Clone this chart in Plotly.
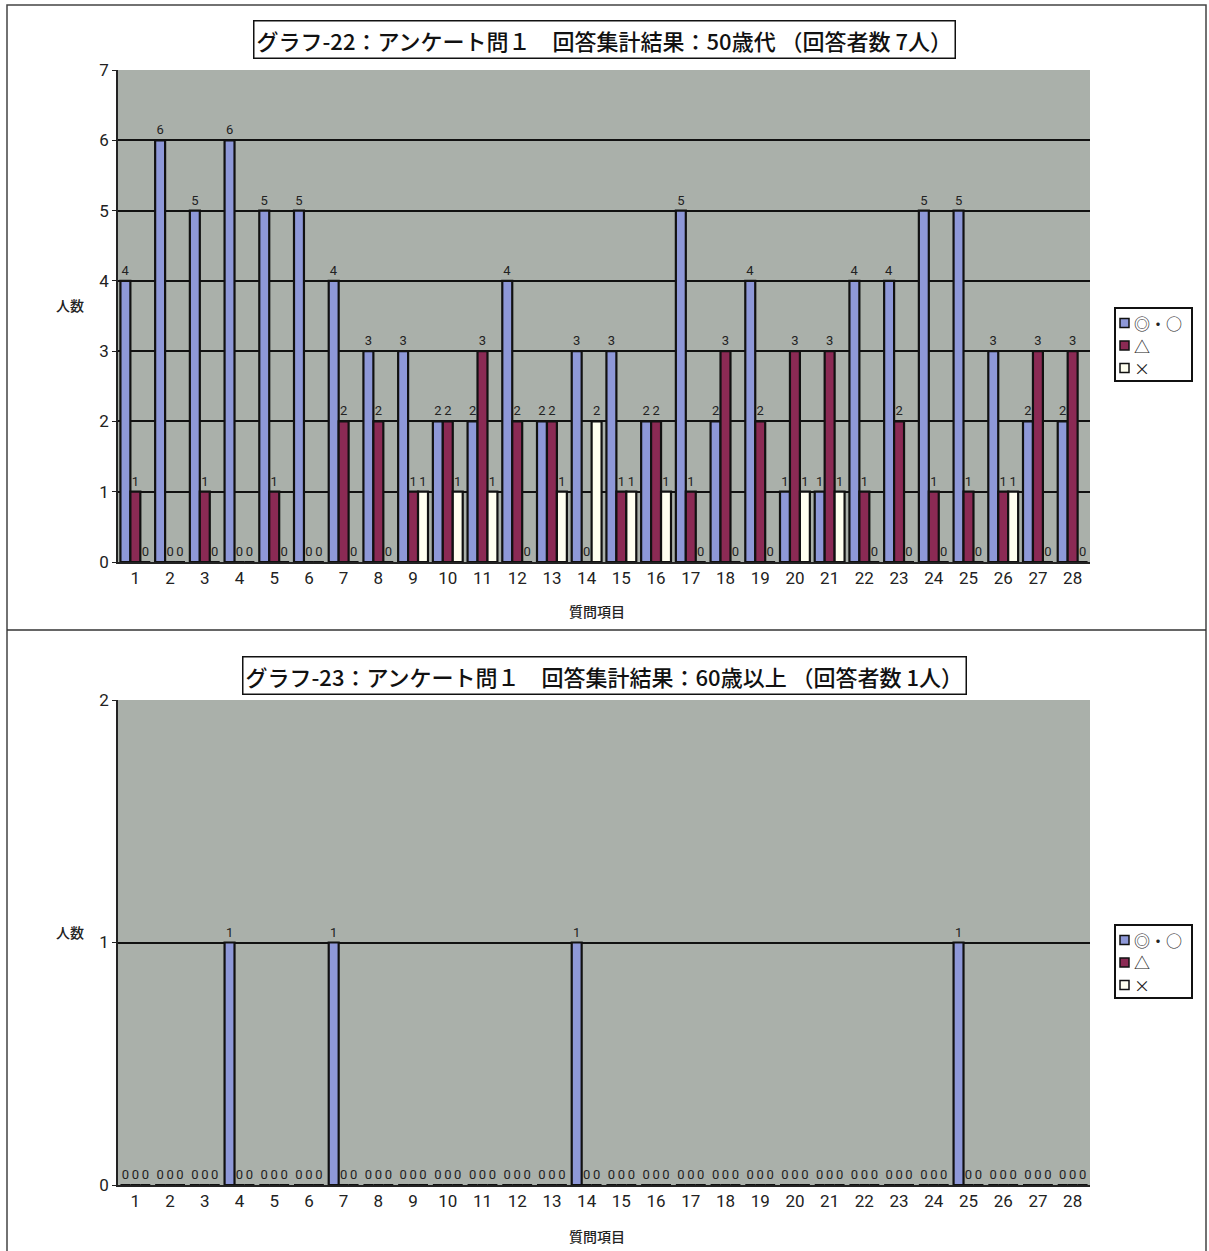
import plotly.graph_objects as go

questions = [str(i) for i in range(1, 29)]

# Graph 22: 50s (7 respondents)
g22_good = [4, 6, 5, 6, 5, 5, 4, 3, 3, 2, 2, 4, 2, 3, 3, 2, 5, 2, 4, 1, 1, 4, 4, 5, 5, 3, 2, 2]
g22_tri = [1, 0, 1, 0, 1, 0, 2, 2, 1, 2, 3, 2, 2, 0, 1, 2, 1, 3, 2, 3, 3, 1, 2, 1, 1, 1, 3, 3]
g22_x = [0, 0, 0, 0, 0, 0, 0, 0, 1, 1, 1, 0, 1, 2, 1, 1, 0, 0, 0, 1, 1, 0, 0, 0, 0, 1, 0, 0]

# Graph 23: 60+ (1 respondent)
g23_good = [0, 0, 0, 1, 0, 0, 1, 0, 0, 0, 0, 0, 0, 1, 0, 0, 0, 0, 0, 0, 0, 0, 0, 0, 1, 0, 0, 0]
g23_tri = [0] * 28
g23_x = [0] * 28

series_names = ["◎・○", "△", "×"]
colors = ["#8e98d8", "#8b2a54", "#fffff0"]

title22 = "グラフ-22：アンケート問１　回答集計結果：50歳代 （回答者数 7人）"
title23 = "グラフ-23：アンケート問１　回答集計結果：60歳以上 （回答者数 1人）"

W, H = 1209, 1251
NUM_FONT = "Liberation Sans Narrow, Roboto, Noto Sans CJK JP, sans-serif"
JP_FONT = "Noto Sans CJK JP, sans-serif"

def px(x):
    return x / W

def py(y):
    return 1 - y / H

fig = go.Figure()

for (vals, xa, ya) in [
    ((g22_good, g22_tri, g22_x), "x", "y"),
    ((g23_good, g23_tri, g23_x), "x2", "y2"),
]:
    for name, v, c in zip(series_names, vals, colors):
        fig.add_trace(go.Bar(
            x=questions, y=v, name=name, xaxis=xa, yaxis=ya, showlegend=False,
            marker=dict(color=c, line=dict(color="#111111", width=2.2)),
            text=v, textposition="outside", cliponaxis=False,
            textfont=dict(family=NUM_FONT, size=13, color="#222222"),
        ))

axis_common = dict(
    showline=True, linecolor="#222222", linewidth=1.5, automargin=False,
    tickfont=dict(family=NUM_FONT, size=17, color="#222222"),
)

fig.update_layout(
    width=W, height=H,
    margin=dict(l=0, r=0, t=0, b=0, pad=0, autoexpand=False),
    paper_bgcolor="white",
    plot_bgcolor="#aab0aa",
    barmode="group", bargap=0.14, bargroupgap=0.0,
    xaxis=dict(domain=[px(118), px(1090)], anchor="y", type="category",
               ticks="", **axis_common),
    yaxis=dict(domain=[py(562), py(70)], anchor="x", range=[0, 7], dtick=1,
               showgrid=True, gridcolor="#111111", gridwidth=1.5,
               ticks="outside", ticklen=4, tickcolor="#222222", zeroline=False,
               **axis_common),
    xaxis2=dict(domain=[px(118), px(1090)], anchor="y2", type="category",
                ticks="", **axis_common),
    yaxis2=dict(domain=[py(1185), py(700)], anchor="x2", range=[0, 2], dtick=1,
                showgrid=True, gridcolor="#111111", gridwidth=1.5,
                ticks="outside", ticklen=4, tickcolor="#222222", zeroline=False,
                **axis_common),
    showlegend=False,
)

annos = [
    dict(text=title22, x=px(604), y=py(40)),
    dict(text=title23, x=px(605), y=py(675)),
]
for a in annos:
    fig.add_annotation(xref="paper", yref="paper", x=a["x"], y=a["y"], text=a["text"],
                       showarrow=False, xanchor="center", yanchor="middle",
                       font=dict(family=JP_FONT, size=22, color="#111111", weight=500),
                       bgcolor="white", bordercolor="#111111", borderwidth=1.5, borderpad=2)

for (x, y, t) in [(70, 305, "人数"), (70, 932, "人数"), (597, 611, "質問項目"), (597, 1236, "質問項目")]:
    fig.add_annotation(xref="paper", yref="paper", x=px(x), y=py(y), text=t,
                       showarrow=False, xanchor="center", yanchor="middle",
                       font=dict(family=JP_FONT, size=14, color="#222222", weight=500))

# hand-drawn legends (one per chart)
for top in (308, 925):
    fig.add_shape(type="rect", xref="paper", yref="paper",
                  x0=px(1115), x1=px(1192), y0=py(top + 73), y1=py(top),
                  line=dict(color="#111111", width=2), fillcolor="white")
    for i, (name, c) in enumerate(zip(series_names, colors)):
        cy = top + 15 + i * 22.5
        fig.add_shape(type="rect", xref="paper", yref="paper",
                      x0=px(1120), x1=px(1129), y0=py(cy + 4.5), y1=py(cy - 4.5),
                      line=dict(color="#111111", width=1.5), fillcolor=c)
        fig.add_annotation(xref="paper", yref="paper", x=px(1132), y=py(cy), text=name,
                           showarrow=False, xanchor="left", yanchor="middle",
                           font=dict(family=JP_FONT, size=16, color="#222222"))

# page frame and divider
fig.add_shape(type="rect", xref="paper", yref="paper",
              x0=px(7), x1=px(1206), y0=py(1256), y1=py(5),
              line=dict(color="#444444", width=1.5))
fig.add_shape(type="line", xref="paper", yref="paper",
              x0=px(7), x1=px(1206), y0=py(630), y1=py(630),
              line=dict(color="#333333", width=1.5))

fig.write_html("out.html", config={"displayModeBar": False},
               post_script="document.body.style.margin='0';document.body.style.overflow='hidden';")
